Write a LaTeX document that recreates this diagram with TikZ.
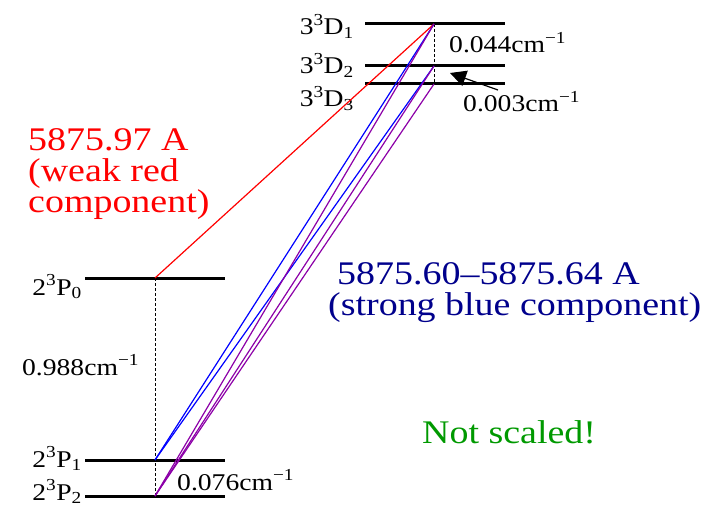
\documentclass[tikz,border=0pt]{standalone}
\usepackage{fontspec}
\setmainfont{Liberation Serif}[FakeStretch=1.15]
\usetikzlibrary{arrows.meta}

\definecolor{purp}{rgb}{0.55,0,0.66}
\newcommand{\term}[4]{#1\textsuperscript{#2}#3\textsubscript{#4}}
\newcommand{\wnum}[1]{#1cm\textsuperscript{−1}}

\begin{document}
\begin{tikzpicture}[
            x=1pt, y=-1pt,
            level/.style={line width=3pt},
            trans/.style={line width=1.2pt},
            gap/.style={densely dashed, line width=0.6pt},
            termlbl/.style={font=\fontsize{24}{28}\selectfont, inner sep=0pt, anchor=base east},
            split/.style={font=\fontsize{24}{28}\selectfont, inner sep=0pt, anchor=base west},
            wave/.style={font=\fontsize{33}{31}\selectfont, inner sep=0pt, align=left, anchor=base west},
            >={Triangle[length=16pt,width=16pt]}
        ]
        \useasboundingbox (0,0) rectangle (702,508);

        % end points of the transitions
        \coordinate (d1) at (434,24);
        \coordinate (d2) at (434,66);
        \coordinate (d3) at (434,84);
        \coordinate (p0) at (155,278);
        \coordinate (p1) at (155,460);
        \coordinate (p2) at (155,496);

        % levels
        \draw[level] (365,24) -- (505,24);
        \draw[level] (365,66) -- (505,66);
        \draw[level] (365,84) -- (505,84);
        \draw[level] (85,278) -- (225,278);
        \draw[level] (85,460) -- (225,460);
        \draw[level] (85,496) -- (225,496);

        \node[termlbl] (d1lbl) at (354,35) {\term{3}{3}{D}{1}};
        \node[termlbl] (d2lbl) at (354,74) {\term{3}{3}{D}{2}};
        \node[termlbl] (d3lbl) at (354,107) {\term{3}{3}{D}{3}};
        \node[termlbl] (p0lbl) at (82,295) {\term{2}{3}{P}{0}};
        \node[termlbl] (p1lbl) at (82,467) {\term{2}{3}{P}{1}};
        \node[termlbl] (p2lbl) at (82,500) {\term{2}{3}{P}{2}};

        % fine structure splittings
        \draw[gap] (d1) -- (d3);
        \draw[gap] (p0) -- (p2);
        \node[split] (dsplit) at (449,53) {\wnum{0.044}};
        \node[split] (dsplit2) at (463,112) {\wnum{0.003}};
        \node[split] (psplit) at (22,375) {\wnum{0.988}};
        \node[split] (psplit2) at (177,490) {\wnum{0.076}};
        \coordinate (tail) at (498,90);
        \coordinate (tip) at (450,73);
        \draw[->, line width=1.2pt] (tail) -- (tip);

        % transitions
        \draw[trans, red] (p0) -- (d1);
        \draw[trans, blue] (p1) -- (d1);
        \draw[trans, blue] (p1) -- (d2);
        \draw[trans, purp] (p2) -- (d1);
        \draw[trans, purp] (p2) -- (d2);
        \draw[trans, purp] (p2) -- (d3);

        % last line of each text sits on the given baseline
        \node[wave, text=red] (weak) at (28,212) {5875.97 A\\(weak red\\component)};
        \node[wave, text=blue!55!black] (strong) at (328,315) {\hspace*{9pt}5875.60–5875.64 A\\(strong blue component)};
        \node[wave, text=green!60!black] (note) at (422,443) {Not scaled!};
    \end{tikzpicture}
\end{document}
